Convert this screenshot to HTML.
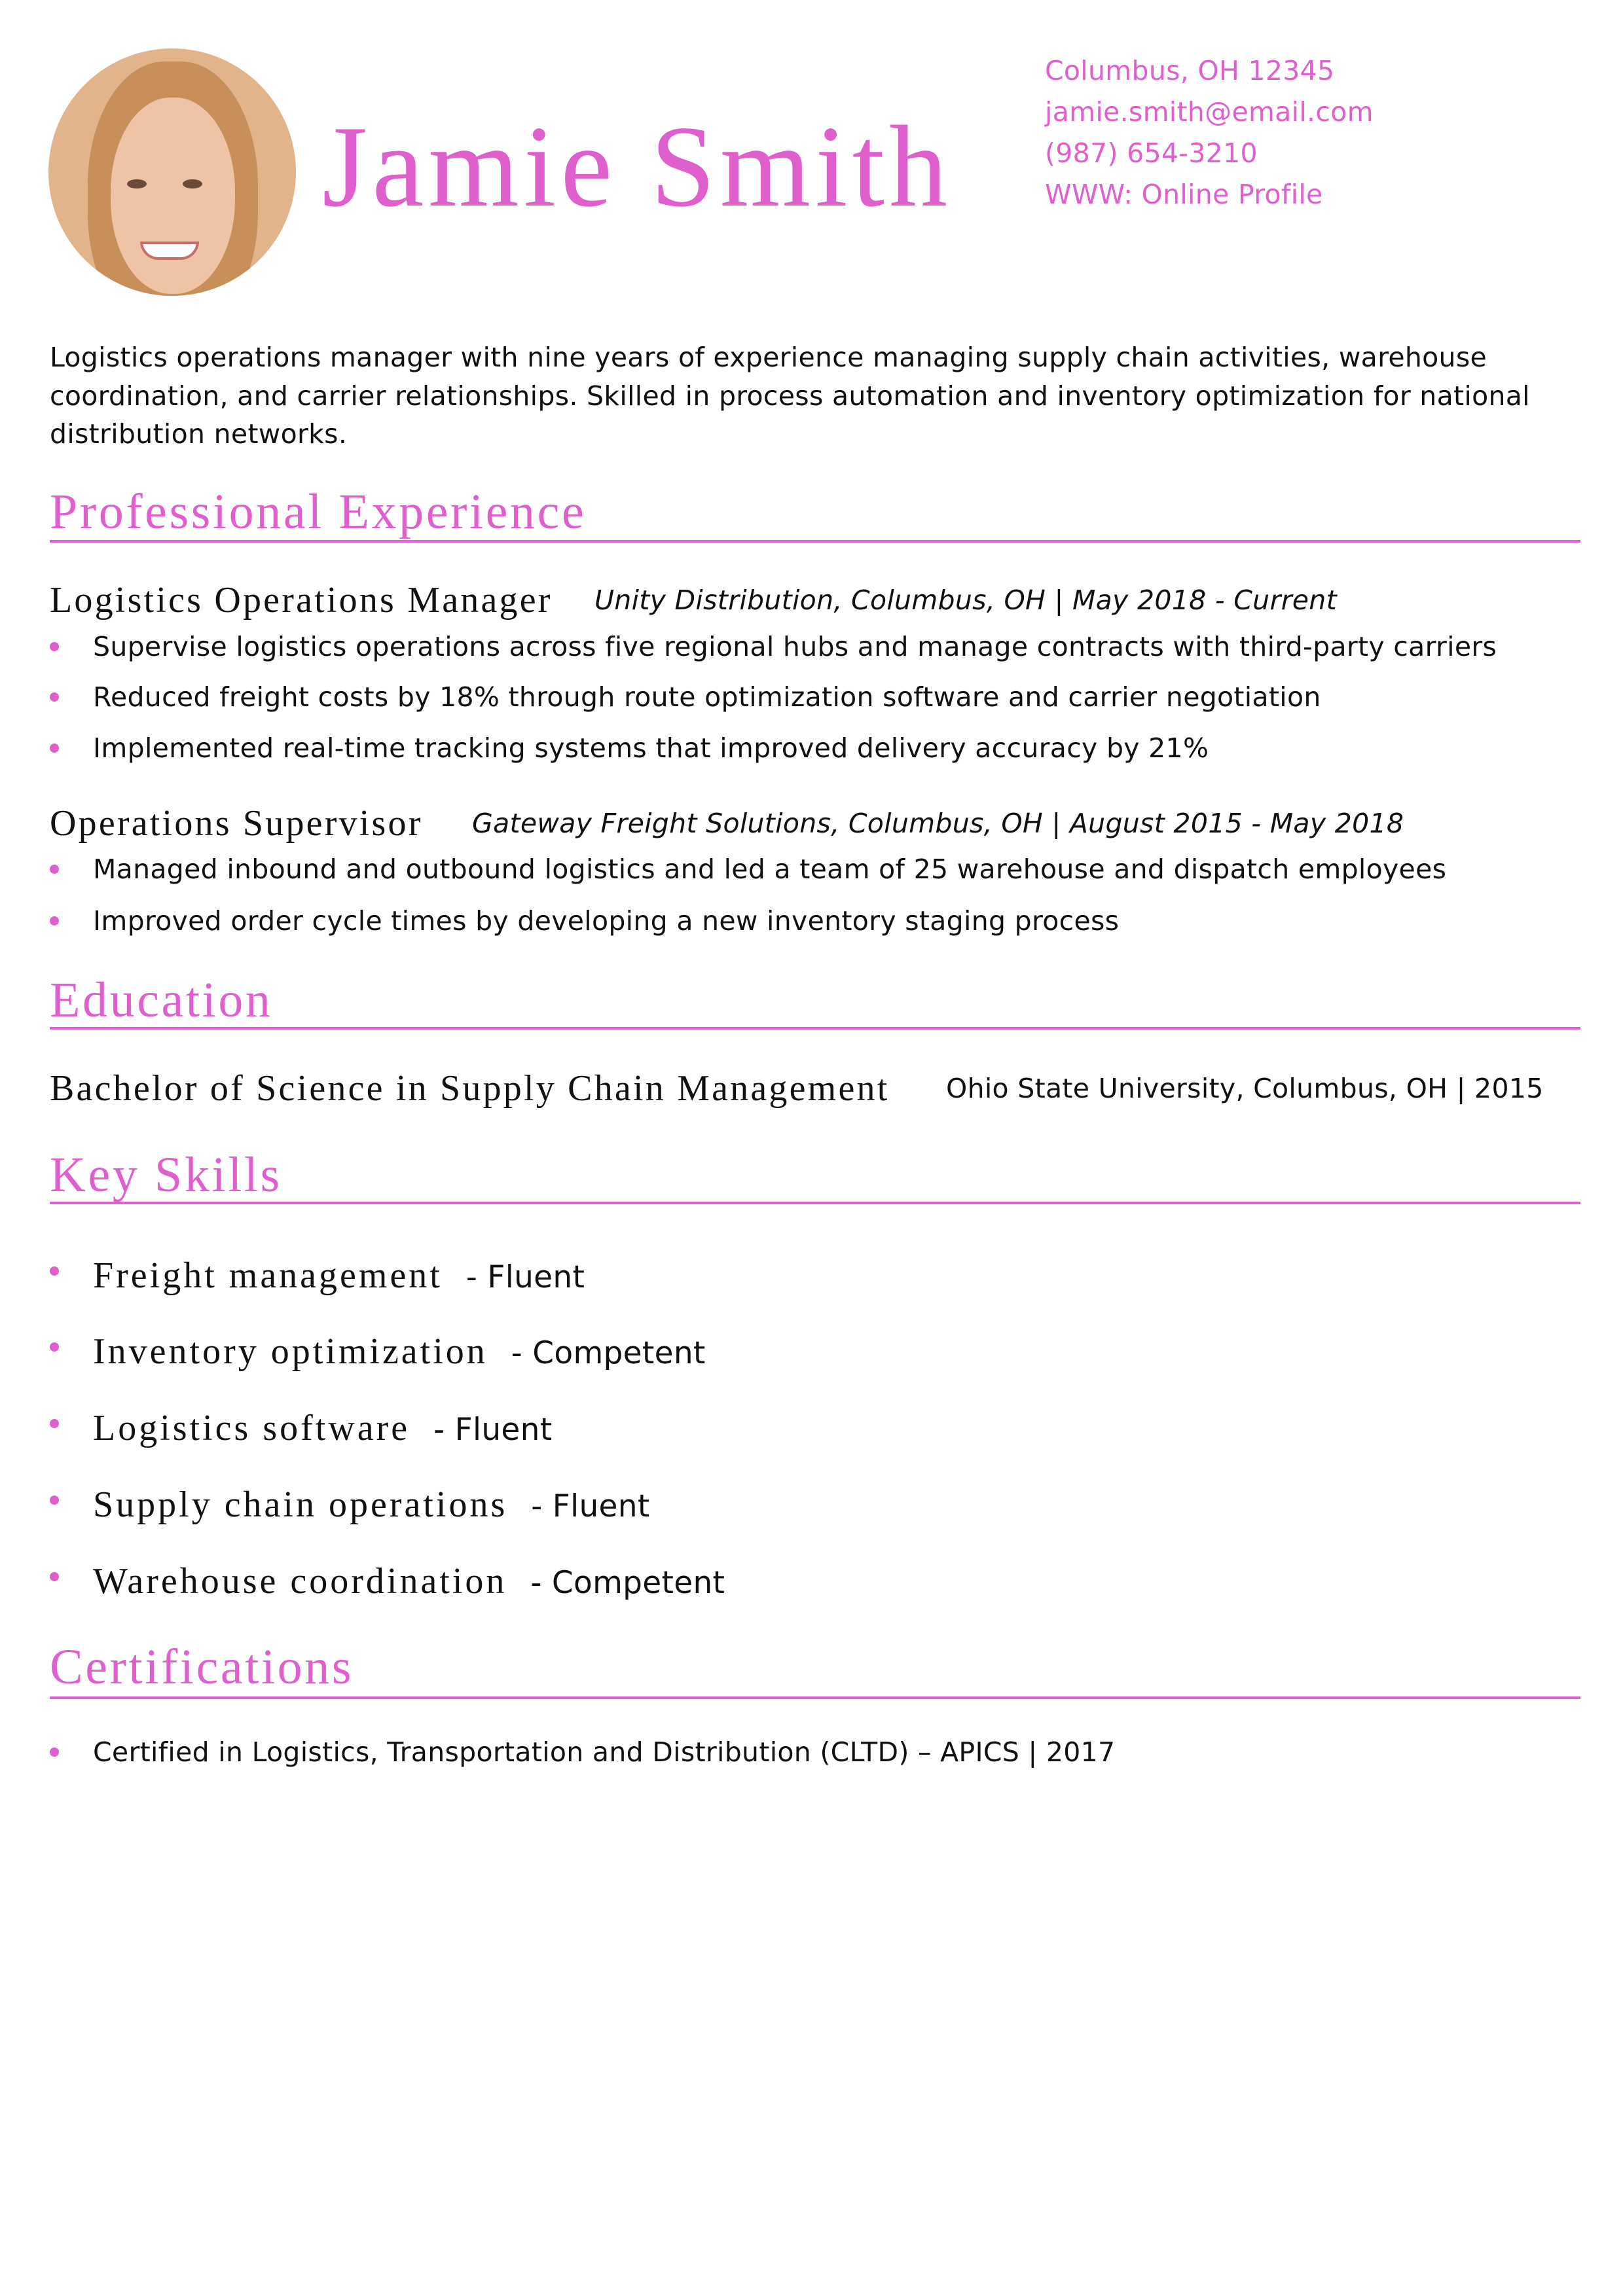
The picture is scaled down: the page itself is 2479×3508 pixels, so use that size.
<!DOCTYPE html>
<html><head><meta charset="utf-8"><style>
*{margin:0;padding:0;box-sizing:border-box}
body{width:2479px;height:3508px;background:#fff;position:relative;overflow:hidden;font-family:"DejaVu Sans","Liberation Sans",sans-serif;color:#111;letter-spacing:0.3px}
.a{position:absolute;white-space:nowrap}
.pk{color:#df5fcd}
.serif{font-family:"Liberation Serif","DejaVu Serif",serif}
.h{font-family:"Liberation Serif",serif;color:#df5fcd;font-size:76px;line-height:80px;left:76px;letter-spacing:3.6px}
.rule{position:absolute;left:76px;width:2338px;height:4px;background:#df5fcd}
.b{font-size:41px;line-height:50px;left:142px}
.dot{position:absolute;left:76px;width:14px;height:14px;border-radius:50%;background:#df5fcd}
.jt{font-family:"Liberation Serif",serif;font-size:56px;line-height:60px;left:76px;letter-spacing:3.2px}
.it{font-style:italic;font-size:41px}
.sk{font-family:"Liberation Serif",serif;font-size:56px;line-height:60px;left:142px;letter-spacing:4px}
.sk span{font-family:"DejaVu Sans",sans-serif;font-size:47px;letter-spacing:0.3px}
</style></head><body>
<div style="position:absolute;left:74px;top:74px;width:378px;height:378px;border-radius:50%;overflow:hidden;background:#e2b48b">
 <div style="position:absolute;left:60px;top:20px;width:260px;height:420px;border-radius:45%;background:#c98f5a"></div>
 <div style="position:absolute;left:95px;top:75px;width:190px;height:300px;border-radius:48%;background:#efc3a6"></div>
 <div style="position:absolute;left:140px;top:295px;width:90px;height:28px;border-radius:0 0 45px 45px;background:#fff;border:4px solid #c56f6a"></div>
 <div style="position:absolute;left:120px;top:200px;width:30px;height:14px;border-radius:50%;background:#6b4a38"></div>
 <div style="position:absolute;left:205px;top:200px;width:30px;height:14px;border-radius:50%;background:#6b4a38"></div>
</div>
<div class="a serif pk" style="left:492px;top:164px;font-size:178px;line-height:180px;letter-spacing:7px">Jamie Smith</div>
<div class="a pk" style="left:1596px;top:83px;font-size:41px;line-height:50px">Columbus, OH 12345</div>
<div class="a pk" style="left:1596px;top:146px;font-size:41px;line-height:50px">jamie.smith@email.com</div>
<div class="a pk" style="left:1596px;top:209px;font-size:41px;line-height:50px">(987) 654-3210</div>
<div class="a pk" style="left:1596px;top:272px;font-size:41px;line-height:50px">WWW: Online Profile</div>

<div class="a" style="left:76px;top:517px;font-size:41px;line-height:58.5px;white-space:normal;width:2360px">Logistics operations manager with nine years of experience managing supply chain activities, warehouse coordination, and carrier relationships. Skilled in process automation and inventory optimization for national distribution networks.</div>

<div class="a h" style="top:742px">Professional Experience</div>
<div class="rule" style="top:825px"></div>
<div class="a jt" style="top:887px">Logistics Operations Manager</div>
<div class="a it" style="left:908px;top:892px;line-height:50px">Unity Distribution, Columbus, OH | May 2018 - Current</div>
<div class="dot" style="top:981px"></div><div class="a b" style="top:963px">Supervise logistics operations across five regional hubs and manage contracts with third-party carriers</div>
<div class="dot" style="top:1058px"></div><div class="a b" style="top:1040px">Reduced freight costs by 18% through route optimization software and carrier negotiation</div>
<div class="dot" style="top:1136px"></div><div class="a b" style="top:1118px">Implemented real-time tracking systems that improved delivery accuracy by 21%</div>
<div class="a jt" style="top:1228px">Operations Supervisor</div>
<div class="a it" style="left:721px;top:1233px;line-height:50px">Gateway Freight Solutions, Columbus, OH | August 2015 - May 2018</div>
<div class="dot" style="top:1321px"></div><div class="a b" style="top:1303px">Managed inbound and outbound logistics and led a team of 25 warehouse and dispatch employees</div>
<div class="dot" style="top:1400px"></div><div class="a b" style="top:1382px">Improved order cycle times by developing a new inventory staging process</div>

<div class="a h" style="top:1488px">Education</div>
<div class="rule" style="top:1569px"></div>
<div class="a jt" style="top:1633px">Bachelor of Science in Supply Chain Management</div>
<div class="a" style="left:1445px;top:1638px;font-size:41px;line-height:50px">Ohio State University, Columbus, OH | 2015</div>

<div class="a h" style="top:1755px">Key Skills</div>
<div class="rule" style="top:1836px"></div>
<div class="dot" style="top:1935px"></div><div class="a sk" style="top:1919px">Freight management &nbsp;<span>- Fluent</span></div>
<div class="dot" style="top:2051px"></div><div class="a sk" style="top:2035px">Inventory optimization &nbsp;<span>- Competent</span></div>
<div class="dot" style="top:2168px"></div><div class="a sk" style="top:2152px">Logistics software &nbsp;<span>- Fluent</span></div>
<div class="dot" style="top:2285px"></div><div class="a sk" style="top:2269px">Supply chain operations &nbsp;<span>- Fluent</span></div>
<div class="dot" style="top:2402px"></div><div class="a sk" style="top:2386px">Warehouse coordination &nbsp;<span>- Competent</span></div>

<div class="a h" style="top:2507px">Certifications</div>
<div class="rule" style="top:2592px"></div>
<div class="dot" style="top:2670px"></div><div class="a b" style="top:2652px">Certified in Logistics, Transportation and Distribution (CLTD) – APICS | 2017</div>
</body></html>
